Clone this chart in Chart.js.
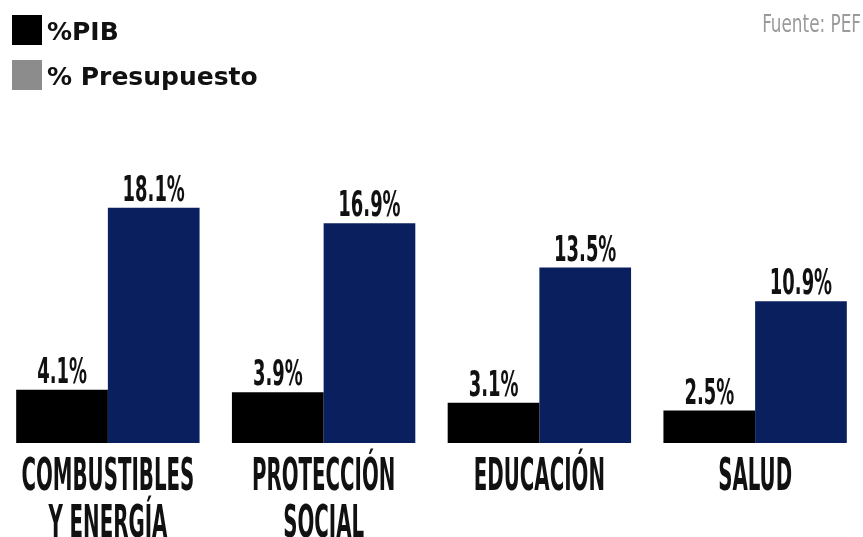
<!DOCTYPE html>
<html>
<head>
<meta charset="utf-8">
<script src="https://cdn.jsdelivr.net/npm/chart.js@4/dist/chart.umd.min.js"></script>
<style>
  html, body { margin: 0; padding: 0; background: #fff; }
  #wrap { width: 863px; height: 537px; position: relative; }
</style>
</head>
<body>
<div id="wrap"><canvas id="canvas" width="863" height="537"></canvas></div>
<script>
// data
var categories = [["COMBUSTIBLES", "Y ENERGÍA"], ["PROTECCIÓN", "SOCIAL"], ["EDUCACIÓN"], ["SALUD"]];
var pibValues = [4.1, 3.9, 3.1, 2.5];
var presupuestoValues = [18.1, 16.9, 13.5, 10.9];
var seriesNames = ["%PIB", "% Presupuesto"];
var legendColors = ["#000000", "#8c8c8c"];
var barColors = ["#000000", "#0a1f5e"];
var sourceText = "Fuente: PEF";

var condensed = "'DejaVu Sans Condensed', 'Liberation Sans Narrow', sans-serif";

// squeezed text, the original uses a very narrow display face
function squeezeText(ctx, text, x, y, font, squeeze, color, align) {
    ctx.save();
    ctx.font = font;
    ctx.fillStyle = color;
    ctx.textAlign = align || "center";
    ctx.textBaseline = "alphabetic";
    ctx.translate(x, y);
    ctx.scale(squeeze, 1);
    ctx.fillText(text, 0, 0);
    ctx.restore();
}

var extras = {
    id: "extras",
    afterDatasetsDraw: function(chart) {
        var ctx = chart.ctx;
        // value labels over the bars
        chart.data.datasets.forEach(function(ds, i) {
            chart.getDatasetMeta(i).data.forEach(function(bar, j) {
                squeezeText(ctx, ds.data[j].toFixed(1) + "%", bar.x, bar.y - 7,
                    "bold 35px " + condensed, 0.57, "#111");
            });
        });
        // category labels under the baseline
        var xs = chart.scales.x;
        var base = chart.scales.y.getPixelForValue(0);
        categories.forEach(function(lines, j) {
            var cx = xs.getPixelForValue(j);
            lines.forEach(function(line, k) {
                squeezeText(ctx, line, cx, base + 47 + k * 47,
                    "bold 44px " + condensed, 0.50, "#111");
            });
        });
    },
    afterDraw: function(chart) {
        var ctx = chart.ctx;
        // legend, stacked top left
        ctx.save();
        seriesNames.forEach(function(name, i) {
            var y = 15 + i * 45;
            ctx.fillStyle = legendColors[i];
            ctx.fillRect(12, y, 30, 30);
            ctx.font = "bold 25px 'DejaVu Sans', sans-serif";
            ctx.fillStyle = "#111";
            ctx.textAlign = "left";
            ctx.textBaseline = "alphabetic";
            ctx.fillText(name, 47, y + 25);
        });
        ctx.restore();
        // source note
        squeezeText(ctx, sourceText, 861, 32, "24px " + condensed, 0.78, "#9a9a9a", "right");
    }
};

new Chart("canvas", {
    type: "bar",
    data: {
        labels: categories,
        datasets: [{
            label: seriesNames[0],
            data: pibValues,
            backgroundColor: barColors[0]
        }, {
            label: seriesNames[1],
            data: presupuestoValues,
            backgroundColor: barColors[1]
        }]
    },
    options: {
        responsive: false,
        animation: false,
        layout: { padding: { top: 183, bottom: 94, left: 0, right: 0 } },
        datasets: {
            bar: { barPercentage: 1, categoryPercentage: 0.85 }
        },
        scales: {
            x: { display: false },
            y: { display: false, min: 0, max: 20 }
        },
        plugins: {
            legend: { display: false },
            tooltip: { enabled: false }
        }
    },
    plugins: [extras]
});
</script>
</body>
</html>
